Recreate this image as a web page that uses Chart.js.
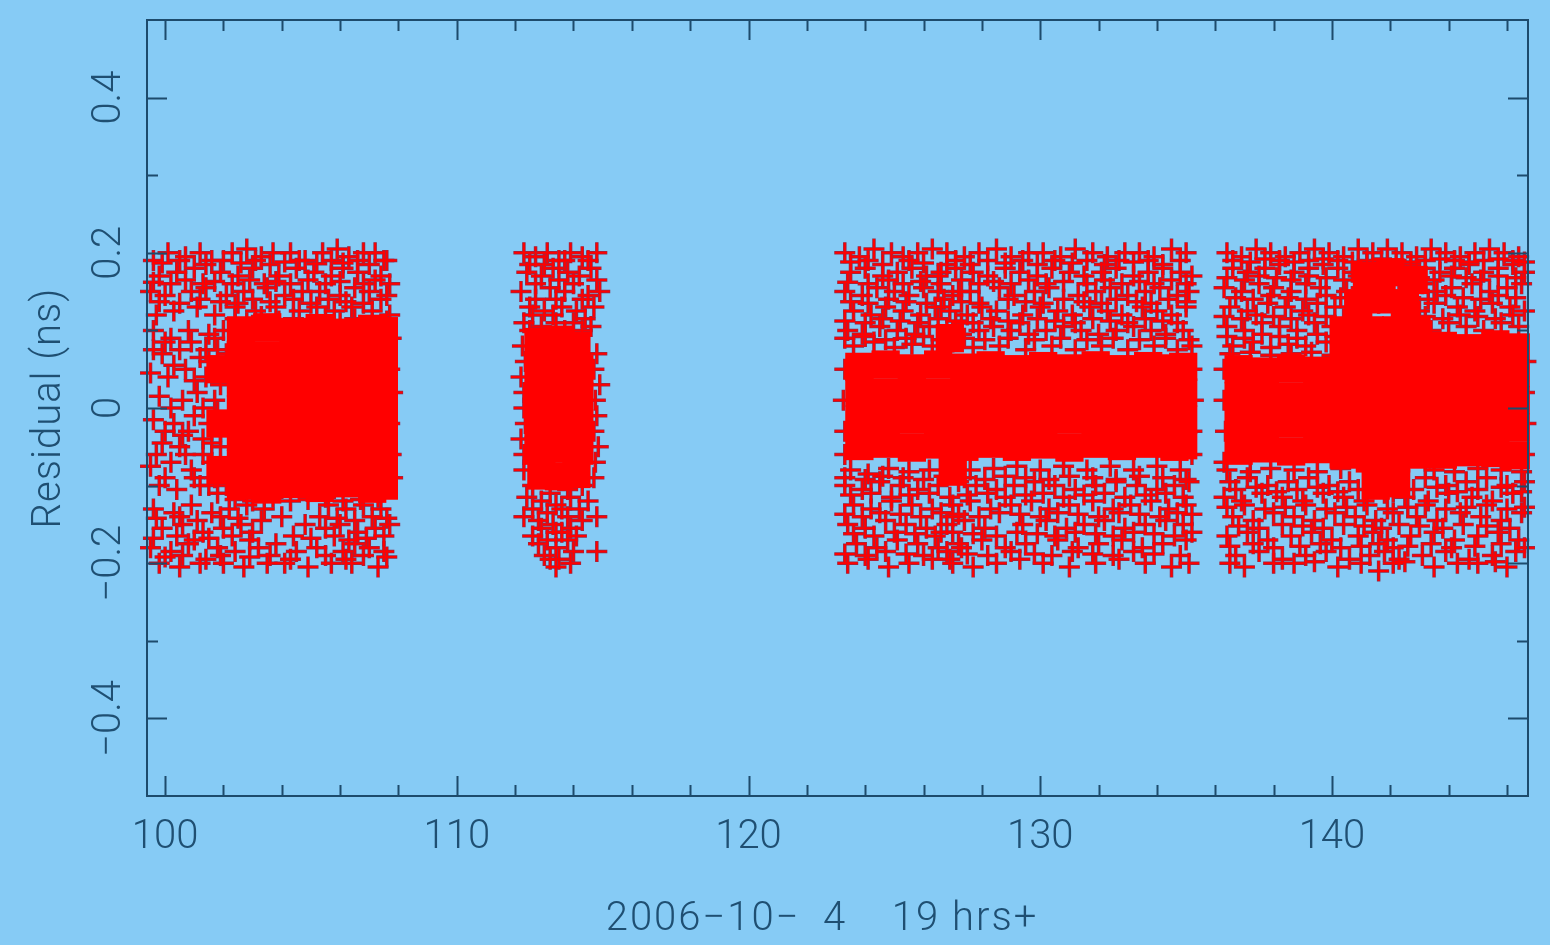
<!DOCTYPE html>
<html>
<head>
<meta charset="utf-8">
<script src="https://cdn.jsdelivr.net/npm/chart.js@4.4.0/dist/chart.umd.min.js"></script>
<style>
  html, body { margin: 0; padding: 0; background: #86cbf5; }
  #wrap { width: 1550px; height: 945px; }
</style>
</head>
<body>
<div id="wrap"><canvas id="residChart"></canvas></div>
<script>
// axis ticks
const xMajorTicks = [100, 110, 120, 130, 140];
const xTickLabels = ["100", "110", "120", "130", "140"];
const xMinorTicks = [100, 102, 104, 106, 108, 110, 112, 114, 116, 118, 120, 122, 124, 126, 128, 130, 132, 134, 136, 138, 140, 142, 144, 146];
const yMajorTicks = [-0.4, -0.2, 0, 0.2, 0.4];
const yTickLabels = ["\u22120.4", "\u22120.2", "0", "0.2", "0.4"];
const yMinorTicks = [-0.4, -0.3, -0.2, -0.1, 0, 0.1, 0.2, 0.3, 0.4];

// residual points (hours, ns)
const run1 = [
  [99.6,.19],[100.1,.2],[100.7,.195],[101.2,.2],[101.6,.19],[102.3,.2],[102.8,.205],[103.3,.195],[103.7,.2],[104.3,.2],[104.8,.19],[105.4,.2],[105.9,.205],[106.3,.195],[106.8,.2],[107.2,.2],[107.6,.19],
  [99.9,.187],[100.5,.19],[101.4,.185],[102.0,.19],[102.6,.187],[103.1,.19],[103.6,.185],[104.1,.188],[104.6,.19],[105.2,.186],[105.7,.19],[106.1,.187],[106.6,.19],[107.0,.185],[107.5,.19],
  [99.8,.17],[100.4,.175],[101.0,.18],[101.9,.175],[102.5,.17],[103.0,.18],[103.9,.17],[104.5,.18],[105.1,.175],[105.7,.17],[106.1,.18],[106.6,.175],[107.4,.17],
  [99.6,.162],[100.2,.16],[100.7,.165],[101.3,.16],[101.7,.163],[102.3,.16],[102.9,.165],[103.4,.16],[103.8,.163],[104.3,.16],[104.9,.165],[105.5,.16],[106.0,.163],[106.8,.16],[107.2,.165],[107.7,.16],
  [99.5,.15],[100.0,.145],[100.9,.15],[101.4,.155],[102.1,.145],[102.7,.15],[103.5,.155],[104.1,.145],[104.7,.15],[105.3,.15],[106.0,.145],[106.5,.155],[107.0,.15],[107.6,.145],
  [99.8,.137],[100.5,.135],[101.2,.14],[101.9,.137],[102.5,.135],[103.0,.14],[103.6,.137],[104.4,.14],[105.0,.135],[105.6,.14],[106.2,.137],[106.8,.135],[107.4,.14],
  [99.7,.12],[100.3,.125],[101.1,.13],[101.7,.12],[102.4,.13],[103.1,.125],[103.8,.13],[104.6,.125],[105.2,.13],[105.8,.125],[106.4,.13],[107.1,.125],[107.7,.12],
  [102.8,.11],[103.9,.112],[105.0,.105],[106.0,.11],[107.3,.1],[102.4,.115],[103.3,.118],[104.4,.115],[105.5,.118],[106.5,.115],[107.6,.112],
  [99.6,.1],[100.2,.09],[100.8,.1],[101.5,.095],[102.0,.1],[100.0,.085],[100.9,.085],[101.4,.075],[101.7,.09],[102.1,.07],[99.6,.075],
  [99.9,.07],[100.5,.075],[101.2,.065],[101.8,.075],[101.5,.06],[100.3,.055],
  [99.5,.045],[100.1,.04],[100.7,.05],[101.4,.04],[102.1,.045],[101.9,.03],[101.0,.035],
  [99.8,.015],[100.6,.01],[101.1,.02],[101.7,.01],[100.2,.0],[101.3,.0],[101.8,-.005],
  [99.6,-.015],[100.3,-.02],[101.0,-.01],[101.5,-.02],[102.2,-.015],[100.8,-.03],[101.9,-.03],[100.0,-.03],[100.6,-.035],
  [99.9,-.045],[100.5,-.05],[101.3,-.04],[101.9,-.05],[101.3,-.06],[101.6,-.045],[100.7,-.06],[99.7,-.06],
  [99.5,-.075],[100.2,-.07],[100.9,-.08],[101.6,-.07],[102.2,-.075],[101.7,-.09],[101.0,-.09],[100.0,-.09],
  [99.8,-.1],[100.4,-.105],[101.2,-.1],[101.8,-.11],[101.5,-.1],[102.1,-.1],
  [107.75,.09],[107.7,.05],[107.8,.02],[107.7,-.02],[107.75,-.06],[107.8,-.09],
  [102.4,-.118],[103.0,-.12],[103.7,-.115],[104.3,-.12],[104.9,-.118],[105.5,-.115],[106.1,-.12],[106.7,-.118],[107.3,-.115],
  [99.6,-.13],[100.3,-.135],[100.9,-.125],[101.6,-.135],[102.2,-.13],[102.8,-.125],[103.4,-.13],[105.6,-.125],[106.2,-.13],[106.8,-.125],[107.4,-.13],
  [99.7,-.142],[100.5,-.14],[101.1,-.145],[101.9,-.14],[102.5,-.142],[103.3,-.145],[105.3,-.14],[105.9,-.142],[106.5,-.145],[107.1,-.14],[107.6,-.142],
  [99.9,-.155],[100.6,-.15],[101.3,-.16],[102.0,-.155],[102.6,-.15],[103.0,-.16],[105.5,-.155],[106.0,-.15],[106.6,-.16],[107.2,-.155],[107.7,-.15],
  [104.0,-.14],[104.8,-.15],[104.4,-.165],
  [99.6,-.168],[100.4,-.165],[101.0,-.17],[101.5,-.168],[102.3,-.165],[102.9,-.17],[105.0,-.168],[105.8,-.165],[106.3,-.17],[106.9,-.168],[107.5,-.165],
  [99.5,-.18],[100.2,-.185],[100.8,-.175],[101.8,-.18],[102.4,-.185],[103.2,-.18],[103.8,-.175],[104.5,-.185],[105.2,-.18],[106.1,-.185],[106.5,-.175],[107.0,-.18],[107.5,-.185],
  [100.0,-.192],[100.6,-.19],[101.4,-.195],[101.9,-.19],[102.9,-.192],[103.6,-.19],[104.3,-.195],[105.5,-.19],[106.2,-.195],[106.8,-.19],[107.6,-.192],
  [99.8,-.2],[100.5,-.205],[101.2,-.2],[102.0,-.2],[102.7,-.205],[103.5,-.2],[104.1,-.2],[104.9,-.205],[105.7,-.2],[106.4,-.2],[107.3,-.205]
];

const run2 = [
  [112.3,.2],[112.7,.195],[113.1,.2],[113.5,.19],[113.9,.2],[114.3,.195],[114.8,.2],
  [112.5,.185],[113.0,.185],[113.7,.19],[114.5,.19],
  [112.4,.175],[112.9,.17],[113.3,.18],[113.8,.175],[114.2,.17],[114.6,.18],
  [112.7,.16],[113.5,.165],[114.0,.16],[114.8,.165],
  [112.2,.15],[113.2,.155],[113.7,.15],[114.5,.145],[114.9,.15],
  [112.7,.14],[113.4,.14],[114.3,.14],
  [112.5,.13],[113.0,.125],[113.6,.13],[114.1,.125],[114.7,.13],
  [112.6,.12],[113.3,.12],[114.4,.115],
  [112.3,.11],[112.9,.105],[113.4,.11],[114.0,.11],[114.6,.105],[112.5,.1],[113.7,.1],[114.3,.1],
  [112.25,.08],[112.2,.04],[112.3,.0],[112.2,-.04],[112.3,-.08],[114.8,.07],[114.9,.03],[114.8,-.01],[114.85,-.05],[114.7,-.09],
  [112.35,.06],[112.3,.02],[112.35,-.02],[112.3,-.06],[114.7,.05],[114.75,.01],[114.7,-.03],[114.75,-.07],
  [112.6,-.1],[113.2,-.11],[113.8,-.105],[114.3,-.1],
  [112.4,-.115],[112.9,-.12],[113.4,-.125],[113.9,-.115],[114.5,-.12],
  [112.6,-.13],[113.1,-.135],[113.6,-.13],[114.2,-.13],
  [112.3,-.14],[112.8,-.145],[113.3,-.15],[113.8,-.14],[114.3,-.145],[114.8,-.14],
  [112.9,-.155],[113.4,-.16],[113.9,-.155],
  [112.6,-.165],[113.1,-.17],[113.6,-.16],[114.1,-.165],
  [112.8,-.175],[113.4,-.18],[113.8,-.17],
  [113.0,-.19],[113.5,-.195],[114.0,-.185],[114.8,-.185],[113.4,-.205],[113.9,-.2],[113.2,-.195]
];

const run3 = [
  [123.3,.2],[123.8,.195],[124.3,.205],[124.9,.2],[125.3,.195],[125.8,.2],[126.3,.205],[126.8,.2],[127.4,.195],[127.9,.2],[128.5,.205],[129.0,.195],[129.6,.2],[130.1,.2],[130.7,.195],[131.2,.205],[131.8,.2],[132.3,.195],[132.9,.2],[133.4,.2],[133.9,.195],[134.5,.205],[135.0,.2],
  [123.5,.188],[124.1,.19],[124.6,.185],[125.5,.19],[126.0,.187],[127.1,.19],[127.6,.185],[128.2,.19],[128.8,.187],[129.4,.19],[129.9,.185],[130.5,.19],[131.1,.187],[131.6,.19],[132.2,.185],[132.7,.19],[133.2,.188],[133.7,.19],[134.2,.185],[134.8,.19],
  [123.5,.175],[124.0,.18],[124.6,.17],[125.1,.175],[125.6,.18],[126.1,.17],[126.6,.175],[127.1,.18],[127.7,.175],[128.2,.17],[128.8,.18],[129.3,.175],[129.9,.17],[130.4,.18],[131.0,.175],[131.5,.17],[132.1,.175],[132.6,.18],[133.2,.17],[133.7,.175],[134.2,.18],[134.8,.175],[135.2,.17],
  [123.4,.162],[124.1,.16],[124.8,.165],[125.3,.16],[125.9,.163],[126.6,.16],[127.3,.165],[127.9,.16],[128.4,.163],[129.0,.16],[129.6,.165],[130.2,.16],[130.8,.163],[131.6,.16],[132.2,.165],[132.8,.16],[133.4,.163],[133.9,.16],[134.5,.165],[135.0,.16],
  [123.3,.15],[123.9,.145],[124.4,.155],[125.0,.15],[125.5,.145],[126.0,.155],[126.5,.15],[127.0,.145],[127.6,.15],[128.6,.155],[129.1,.145],[129.8,.15],[130.3,.155],[131.3,.145],[131.9,.15],[132.4,.155],[133.0,.145],[133.6,.15],[134.1,.155],[134.7,.145],[135.1,.15],
  [123.5,.137],[124.1,.135],[124.8,.14],[125.4,.137],[126.1,.135],[126.7,.14],[127.3,.137],[127.9,.135],[128.9,.14],[129.5,.137],[130.1,.135],[130.8,.14],[131.5,.137],[132.1,.135],[132.6,.14],[133.3,.137],[133.8,.135],[134.4,.14],[135.0,.137],
  [123.6,.125],[124.2,.12],[124.7,.13],[125.3,.125],[125.9,.12],[126.4,.13],[126.9,.125],[127.5,.12],[128.0,.13],[128.5,.125],[129.4,.12],[130.0,.13],[130.6,.125],[131.1,.12],[131.7,.13],[132.3,.125],[132.8,.12],[133.5,.13],[134.0,.125],[134.5,.12],[135.0,.13],
  [123.3,.112],[124.0,.11],[124.6,.115],[125.2,.112],[125.8,.11],[126.5,.115],[127.1,.112],[127.7,.11],[128.3,.115],[128.9,.112],[129.3,.11],[129.9,.115],[130.5,.112],[131.2,.11],[131.8,.115],[132.4,.112],[133.0,.11],[133.6,.115],[134.2,.112],[134.7,.11],
  [123.4,.1],[123.9,.095],[124.5,.105],[125.1,.1],[125.7,.095],[126.2,.105],[126.8,.1],[127.3,.095],[127.9,.1],[128.4,.105],[129.0,.1],[129.6,.095],[130.2,.1],[130.8,.105],[131.4,.1],[132.0,.095],[132.6,.1],[133.2,.105],[133.8,.1],[134.3,.095],[134.9,.1],
  [123.3,.09],[124.0,.092],[124.7,.088],[125.4,.09],[126.0,.092],[126.6,.088],[127.4,.09],[128.1,.088],[128.9,.09],[129.8,.088],[130.7,.09],[131.6,.088],[132.5,.09],[133.4,.088],[134.3,.09],[135.1,.088],
  [123.6,.08],[124.3,.085],[125.0,.078],[125.6,.082],[126.3,.08],[127.0,.085],[127.7,.078],[128.6,.08],[129.5,.075],[130.4,.08],[131.2,.075],[132.1,.08],[133.0,.075],[133.9,.08],[134.7,.075],[135.2,.08],
  [126.5,.17],[127.2,.15],[126.6,.13],[127.3,.11],[126.8,.185],[127.0,-.14],[126.6,-.16],[127.3,-.18],[126.9,-.195],
  [123.3,.05],[123.25,.01],[123.3,-.03],[123.3,-.06],[135.2,.05],[135.25,.01],[135.2,-.03],[135.2,-.06],
  [123.5,-.08],[124.1,-.085],[124.8,-.078],[125.5,-.082],[126.2,-.08],[126.9,-.085],[127.6,-.08],[128.4,-.078],[129.2,-.075],[130.0,-.08],[130.8,-.075],[131.6,-.08],[132.4,-.075],[133.2,-.08],[134.0,-.075],[134.8,-.08],
  [123.3,-.09],[124.0,-.092],[124.6,-.088],[125.3,-.09],[126.0,-.092],[126.7,-.088],[127.4,-.09],[128.1,-.092],[128.8,-.088],[129.5,-.09],[130.3,-.092],[131.0,-.088],[131.8,-.09],[132.6,-.092],[133.4,-.088],[134.2,-.09],[135.0,-.092],
  [123.3,-.1],[123.9,-.105],[124.5,-.095],[125.2,-.1],[125.8,-.105],[126.5,-.1],[127.2,-.095],[127.8,-.1],[128.5,-.105],[129.1,-.1],[129.8,-.095],[130.5,-.1],[131.2,-.105],[131.9,-.1],[132.6,-.095],[133.3,-.1],[134.0,-.105],[134.6,-.1],[135.1,-.095],
  [123.5,-.112],[124.2,-.11],[124.9,-.115],[125.5,-.112],[126.2,-.11],[126.9,-.115],[127.5,-.112],[128.2,-.11],[128.8,-.115],[129.5,-.112],[130.1,-.11],[130.8,-.115],[131.5,-.112],[132.2,-.11],[132.9,-.115],[133.6,-.112],[134.3,-.11],[134.9,-.115],
  [123.6,-.125],[124.2,-.13],[124.9,-.12],[125.6,-.125],[126.3,-.13],[127.0,-.125],[127.6,-.12],[128.3,-.13],[129.0,-.125],[129.7,-.12],[130.3,-.13],[131.0,-.125],[131.8,-.12],[132.5,-.13],[133.1,-.125],[133.8,-.12],[134.4,-.13],[135.0,-.125],
  [123.3,-.137],[123.9,-.14],[124.5,-.135],[125.2,-.137],[125.9,-.14],[126.6,-.135],[127.2,-.137],[127.9,-.14],[128.6,-.135],[129.3,-.137],[130.0,-.14],[130.6,-.135],[131.3,-.137],[132.0,-.14],[132.7,-.135],[133.4,-.137],[134.1,-.14],[134.7,-.135],[135.2,-.137],
  [123.4,-.15],[124.0,-.155],[124.7,-.145],[125.4,-.15],[126.1,-.155],[126.8,-.15],[127.4,-.145],[128.1,-.155],[129.4,-.15],[130.2,-.145],[130.9,-.155],[131.5,-.15],[132.2,-.145],[132.9,-.155],[133.6,-.15],[134.3,-.145],[134.9,-.15],
  [123.6,-.162],[124.3,-.165],[125.0,-.16],[125.7,-.162],[126.4,-.165],[127.0,-.16],[127.7,-.162],[128.5,-.165],[129.2,-.16],[129.9,-.162],[130.5,-.165],[131.2,-.16],[131.9,-.162],[132.5,-.165],[133.2,-.16],[133.9,-.162],[134.6,-.165],[135.2,-.16],
  [123.7,-.175],[124.4,-.18],[125.1,-.17],[125.8,-.175],[126.5,-.18],[127.2,-.175],[128.0,-.17],[128.8,-.18],[129.5,-.175],[130.6,-.17],[131.3,-.18],[132.0,-.175],[132.8,-.17],[133.5,-.18],[134.2,-.175],[135.0,-.17],
  [123.3,-.188],[124.0,-.19],[124.7,-.185],[125.4,-.188],[126.0,-.19],[126.8,-.185],[127.5,-.188],[128.2,-.19],[129.0,-.185],[129.8,-.188],[130.4,-.19],[131.1,-.185],[131.8,-.188],[132.5,-.19],[133.2,-.185],[133.9,-.188],[134.8,-.19],
  [123.4,-.2],[124.1,-.195],[124.8,-.205],[125.5,-.2],[126.3,-.195],[127.0,-.2],[127.7,-.205],[128.5,-.2],[129.3,-.195],[130.1,-.2],[131.0,-.205],[131.9,-.2],[132.7,-.195],[133.6,-.2],[134.5,-.205],[135.1,-.2]
];

const run4 = [
  [136.4,.2],[136.9,.195],[137.4,.205],[137.9,.2],[138.4,.195],[138.9,.2],[139.4,.205],[139.9,.2],[140.4,.195],[140.9,.205],[141.4,.2],[141.9,.205],[142.4,.2],[142.9,.195],[143.4,.205],[143.9,.2],[144.4,.195],[144.9,.2],[145.4,.205],[145.9,.2],[146.4,.195],
  [136.6,.19],[137.2,.188],[137.7,.192],[138.2,.19],[138.7,.188],[139.2,.19],[139.7,.192],[140.2,.19],[140.7,.188],[141.2,.19],[141.7,.192],[142.2,.19],[142.7,.188],[143.2,.19],[143.7,.192],[144.2,.19],[144.7,.188],[145.2,.19],[145.7,.192],[146.2,.19],[146.6,.188],
  [136.6,.18],[137.1,.175],[137.7,.18],[138.2,.185],[138.7,.175],[139.2,.18],[139.7,.185],[140.2,.18],[140.7,.175],[141.2,.185],[141.7,.18],[142.2,.175],[142.7,.185],[143.2,.18],[143.7,.175],[144.2,.18],[144.7,.185],[145.2,.175],[145.7,.18],[146.2,.185],[146.6,.175],
  [136.4,.168],[137.0,.165],[137.5,.17],[138.1,.168],[138.6,.165],[139.2,.17],[139.8,.168],[140.4,.165],[140.9,.17],[141.4,.168],[142.0,.165],[142.5,.17],[143.0,.168],[143.5,.165],[144.1,.17],[144.6,.168],[145.1,.165],[145.7,.17],[146.3,.168],
  [136.3,.155],[136.9,.15],[137.5,.16],[138.0,.155],[138.6,.15],[139.1,.16],[139.6,.155],[140.5,.15],[141.0,.155],[141.5,.16],[142.0,.15],[142.6,.155],[143.1,.16],[143.6,.15],[144.1,.155],[144.8,.16],[145.4,.15],[146.0,.155],[146.5,.16],
  [136.7,.142],[137.3,.14],[137.9,.145],[138.5,.142],[139.1,.14],[139.8,.145],[140.3,.142],[141.0,.14],[141.9,.145],[142.7,.142],[143.3,.14],[143.9,.145],[144.5,.142],[145.1,.14],[145.7,.145],[146.3,.142],
  [136.5,.13],[137.1,.125],[137.8,.135],[138.4,.13],[139.0,.125],[139.5,.135],[140.1,.13],[140.8,.125],[141.6,.135],[142.4,.13],[143.0,.125],[143.5,.135],[144.3,.13],[144.9,.125],[145.5,.135],[146.1,.13],[146.6,.125],
  [136.3,.118],[136.9,.115],[137.4,.12],[138.0,.118],[138.6,.115],[139.2,.12],[139.8,.118],[140.4,.115],[143.2,.118],[143.8,.115],[144.4,.12],[145.0,.118],[145.6,.115],[146.2,.12],
  [136.4,.105],[137.0,.1],[137.6,.11],[138.2,.105],[138.8,.1],[139.4,.11],[140.0,.105],[143.4,.1],[144.0,.11],[144.6,.105],[145.2,.1],[145.8,.11],[146.4,.105],
  [136.4,.092],[137.0,.09],[137.6,.095],[138.2,.092],[138.8,.09],[139.5,.095],[140.1,.092],
  [136.6,.08],[137.3,.085],[137.9,.078],[138.5,.082],[139.1,.08],[139.8,.085],
  [136.5,.07],[137.2,.072],[137.9,.068],[138.6,.07],[139.3,.072],[140.0,.068],
  [136.3,.05],[136.3,.01],[136.35,-.03],[136.3,-.07],[146.65,.06],[146.6,.02],[146.65,-.02],[146.6,-.06],
  [136.4,-.08],[137.2,-.082],[137.9,-.078],[138.7,-.08],[139.5,-.082],[140.3,-.078],[143.5,-.08],[144.2,-.082],[145.0,-.078],[145.8,-.08],[146.5,-.082],
  [136.5,-.095],[137.1,-.09],[137.8,-.1],[138.5,-.095],[139.2,-.09],[139.9,-.1],[140.6,-.095],[143.2,-.09],[143.9,-.1],[144.6,-.095],[145.3,-.09],[146.0,-.1],[146.6,-.095],
  [136.7,-.105],[137.4,-.102],[138.1,-.108],[138.8,-.105],[139.5,-.102],[140.2,-.108],[140.9,-.105],[141.5,-.102],[142.1,-.108],[142.8,-.105],[143.6,-.102],[144.3,-.108],[145.0,-.105],[145.8,-.102],[146.5,-.108],
  [136.3,-.115],[136.9,-.12],[137.6,-.11],[138.3,-.115],[139.0,-.12],[139.7,-.11],[140.4,-.115],[141.1,-.12],[141.8,-.11],[142.5,-.115],[143.3,-.12],[144.0,-.11],[144.8,-.115],[145.5,-.12],[146.2,-.11],
  [136.4,-.128],[137.0,-.125],[137.7,-.13],[138.4,-.128],[139.1,-.125],[139.8,-.13],[140.5,-.128],[141.2,-.125],[141.9,-.13],[142.6,-.128],[143.2,-.125],[143.9,-.13],[144.6,-.128],[145.3,-.125],[146.0,-.13],[146.6,-.128],
  [136.6,-.14],[137.3,-.145],[138.0,-.135],[138.7,-.14],[139.4,-.145],[140.1,-.135],[140.8,-.14],[141.5,-.145],[142.1,-.135],[142.9,-.14],[143.6,-.145],[144.4,-.135],[145.1,-.14],[145.8,-.145],[146.5,-.135],
  [136.8,-.152],[137.5,-.155],[138.3,-.15],[139.0,-.152],[139.7,-.155],[140.4,-.15],[141.1,-.152],[141.7,-.155],[142.3,-.15],[143.0,-.152],[143.8,-.155],[144.5,-.15],[145.3,-.152],[146.1,-.155],
  [136.4,-.165],[137.1,-.16],[137.8,-.17],[138.6,-.165],[139.3,-.16],[140.0,-.17],[140.9,-.165],[141.4,-.16],[141.9,-.17],[142.7,-.165],[143.5,-.16],[144.2,-.17],[145.0,-.165],[145.7,-.16],[146.4,-.17],
  [136.5,-.178],[137.3,-.175],[138.0,-.18],[138.9,-.178],[139.6,-.175],[140.3,-.18],[141.0,-.178],[141.6,-.175],[142.1,-.18],[142.6,-.178],[143.4,-.175],[144.1,-.18],[144.9,-.178],[145.8,-.175],[146.6,-.18],
  [136.7,-.19],[137.5,-.185],[138.3,-.195],[139.1,-.19],[139.8,-.185],[140.6,-.195],[141.3,-.19],[141.8,-.185],[142.3,-.195],[143.1,-.19],[143.9,-.185],[144.7,-.195],[145.5,-.19],[146.3,-.185],
  [136.5,-.2],[138.0,-.2],[139.4,-.198],[141.0,-.2],[142.5,-.198],[144.3,-.2],[145.6,-.198],
  [137.0,-.205],[138.7,-.2],[140.2,-.205],[141.6,-.21],[142.1,-.2],[143.5,-.205],[145.0,-.2],[146.0,-.205]
];

// saturated cores, where the crosses pile up into solid red
const core1 = [
  [102.6,.1],[103.5,.104],[104.4,.098],[105.3,.103],[106.2,.097],[107.1,.102],[107.5,.099],
  [102.6,.068],[103.5,.068],[104.4,.065],[105.3,.068],[106.2,.064],[107.1,.068],[107.5,.066],
  [102.6,.033],[103.5,.033],[104.4,.03],[105.3,.033],[106.2,.03],[107.1,.033],[107.5,.031],
  [102.6,-.002],[103.5,-.002],[104.4,-.005],[105.3,-.002],[106.2,-.005],[107.1,-.002],[107.5,-.004],
  [102.6,-.037],[103.5,-.037],[104.4,-.04],[105.3,-.037],[106.2,-.04],[107.1,-.037],[107.5,-.039],
  [102.6,-.072],[103.5,-.072],[104.4,-.074],[105.3,-.072],[106.2,-.074],[107.1,-.072],[107.5,-.073],
  [102.6,-.1],[103.5,-.105],[104.4,-.098],[105.3,-.103],[106.2,-.097],[107.1,-.104],[107.5,-.1],
  [101.9,.05],[101.9,-.02],[101.9,-.08]
];

const core2 = [
  [112.8,.085],[113.5,.088],[114.1,.08],
  [112.8,.05],[113.5,.053],[114.2,.05],
  [112.8,.015],[113.5,.018],[114.2,.015],
  [112.8,-.02],[113.5,-.017],[114.2,-.02],
  [112.8,-.055],[113.5,-.052],[114.2,-.055],
  [112.9,-.087],[113.5,-.088],[114.1,-.085]
];

const core3 = [
  [123.8,.053],[124.7,.056],[125.6,.051],[126.5,.056],[127.4,.052],[128.3,.055],[129.2,.05],[130.1,.054],[131.0,.051],[131.9,.055],[132.8,.05],[133.7,.054],[134.6,.051],[134.9,.053],
  [123.8,.02],[124.7,.02],[125.6,.02],[126.5,.02],[127.4,.02],[128.3,.02],[129.2,.02],[130.1,.02],[131.0,.02],[131.9,.02],[132.8,.02],[133.7,.02],[134.6,.02],[134.9,.02],
  [123.8,-.015],[124.7,-.015],[125.6,-.015],[126.5,-.015],[127.4,-.015],[128.3,-.015],[129.2,-.015],[130.1,-.015],[131.0,-.015],[131.9,-.015],[132.8,-.015],[133.7,-.015],[134.6,-.015],[134.9,-.015],
  [123.8,-.049],[124.7,-.046],[125.6,-.051],[126.5,-.047],[127.4,-.05],[128.3,-.046],[129.2,-.05],[130.1,-.047],[131.0,-.051],[131.9,-.046],[132.8,-.049],[133.7,-.046],[134.6,-.05],[134.9,-.048],
  [126.9,.09],[127.0,-.082]
];

const core4 = [
  [136.8,.05],[137.7,.047],[138.6,.051],[139.5,.048],
  [136.8,.015],[137.7,.015],[138.6,.015],[139.5,.015],
  [136.8,-.02],[137.7,-.02],[138.6,-.02],[139.5,-.02],
  [136.8,-.055],[137.7,-.052],[138.6,-.056],[139.5,-.053],
  [141.2,.17],[142.0,.175],[142.8,.165],
  [140.9,.135],[141.7,.14],[142.5,.135],
  [140.4,.1],[141.3,.1],[142.2,.1],[142.9,.1],
  [140.4,.065],[141.3,.065],[142.2,.065],[142.9,.065],
  [140.4,.03],[141.3,.03],[142.2,.03],[142.9,.03],
  [140.4,-.005],[141.3,-.005],[142.2,-.005],[142.9,-.005],
  [140.4,-.04],[141.3,-.04],[142.2,-.04],[142.9,-.04],
  [140.4,-.06],[141.3,-.065],[142.2,-.065],[142.9,-.06],
  [141.5,-.1],[142.2,-.097],
  [143.8,.08],[144.7,.077],[145.6,.082],[146.3,.078],
  [143.8,.045],[144.7,.045],[145.6,.047],[146.3,.045],
  [143.8,.01],[144.7,.01],[145.6,.012],[146.3,.01],
  [143.8,-.025],[144.7,-.025],[145.6,-.023],[146.3,-.025],
  [143.8,-.06],[144.7,-.057],[145.6,-.058],[146.3,-.061]
];

const axisColor = "#1d4b6c";
const textColor = "#1f4f72";
const markColor = "#ff0000";
const edgeColor = "#952a48";

// each plus is drawn twice: a dark edge under a red stroke, like the jpeg
const edgeSet = (data) => ({
  data: data,
  pointStyle: "cross",
  pointRadius: 10.5,
  pointBorderWidth: 3.5,
  borderColor: edgeColor,
  backgroundColor: edgeColor,
  clip: false,
  order: 3
});

const crossSet = (data) => ({
  data: data,
  pointStyle: "cross",
  pointRadius: 10,
  pointBorderWidth: 2,
  borderColor: markColor,
  backgroundColor: markColor,
  clip: false,
  order: 1
});

const coreSet = (data) => ({
  data: data,
  pointStyle: "rect",
  pointRadius: 20,
  pointBorderWidth: 0,
  borderColor: markColor,
  backgroundColor: markColor,
  clip: false,
  order: 2
});

// PGPLOT style box: ticks inside on all four sides, labels outside
const pgplotAxes = {
  id: "pgplotAxes",
  afterDatasetsDraw(chart) {
    const { ctx, chartArea: a, scales } = chart;
    const x = scales.x, y = scales.y;
    ctx.save();
    ctx.strokeStyle = axisColor;
    ctx.lineWidth = 2;
    ctx.strokeRect(a.left, a.top, a.right - a.left, a.bottom - a.top);

    ctx.beginPath();
    xMinorTicks.forEach(v => {
      const px = Math.round(x.getPixelForValue(v)) + 0.5;
      const len = xMajorTicks.includes(v) ? 20 : 11;
      ctx.moveTo(px, a.bottom); ctx.lineTo(px, a.bottom - len);
      ctx.moveTo(px, a.top); ctx.lineTo(px, a.top + len);
    });
    yMinorTicks.forEach(v => {
      const py = Math.round(y.getPixelForValue(v)) + 0.5;
      const len = yMajorTicks.includes(v) ? 20 : 11;
      ctx.moveTo(a.left, py); ctx.lineTo(a.left + len, py);
      ctx.moveTo(a.right, py); ctx.lineTo(a.right - len, py);
    });
    ctx.stroke();

    ctx.fillStyle = textColor;
    ctx.font = "300 40px Roboto, 'DejaVu Sans', sans-serif";
    ctx.textAlign = "center";
    ctx.textBaseline = "alphabetic";
    xMajorTicks.forEach((v, i) => {
      ctx.fillText(xTickLabels[i], x.getPixelForValue(v), a.bottom + 52);
    });
    yMajorTicks.forEach((v, i) => {
      ctx.save();
      ctx.translate(a.left - 27, y.getPixelForValue(v));
      ctx.rotate(-Math.PI / 2);
      ctx.fillText(yTickLabels[i], 0, 0);
      ctx.restore();
    });

    ctx.letterSpacing = "2px";
    ctx.fillText("2006\u221210\u2212\u20024\u2002\u200219 hrs+", 822, 930);
    ctx.letterSpacing = "1px";
    ctx.save();
    ctx.translate(60, 408);
    ctx.rotate(-Math.PI / 2);
    ctx.fillText("Residual (ns)", 0, 0);
    ctx.restore();
    ctx.restore();
  }
};

new Chart(document.getElementById("residChart"), {
  type: "scatter",
  data: {
    datasets: [
      crossSet(run1), crossSet(run2), crossSet(run3), crossSet(run4),
      coreSet(core1), coreSet(core2), coreSet(core3), coreSet(core4),
      edgeSet(run1), edgeSet(run2), edgeSet(run3), edgeSet(run4)
    ]
  },
  options: {
    responsive: true,
    maintainAspectRatio: false,
    animation: false,
    events: [],
    layout: { padding: { left: 147, top: 18, right: 22, bottom: 149 } },
    plugins: {
      legend: { display: false },
      tooltip: { enabled: false }
    },
    scales: {
      x: { type: "linear", min: 99.38, max: 146.72, display: false },
      y: { type: "linear", min: -0.5, max: 0.5, display: false }
    }
  },
  plugins: [pgplotAxes]
});
</script>
</body>
</html>
